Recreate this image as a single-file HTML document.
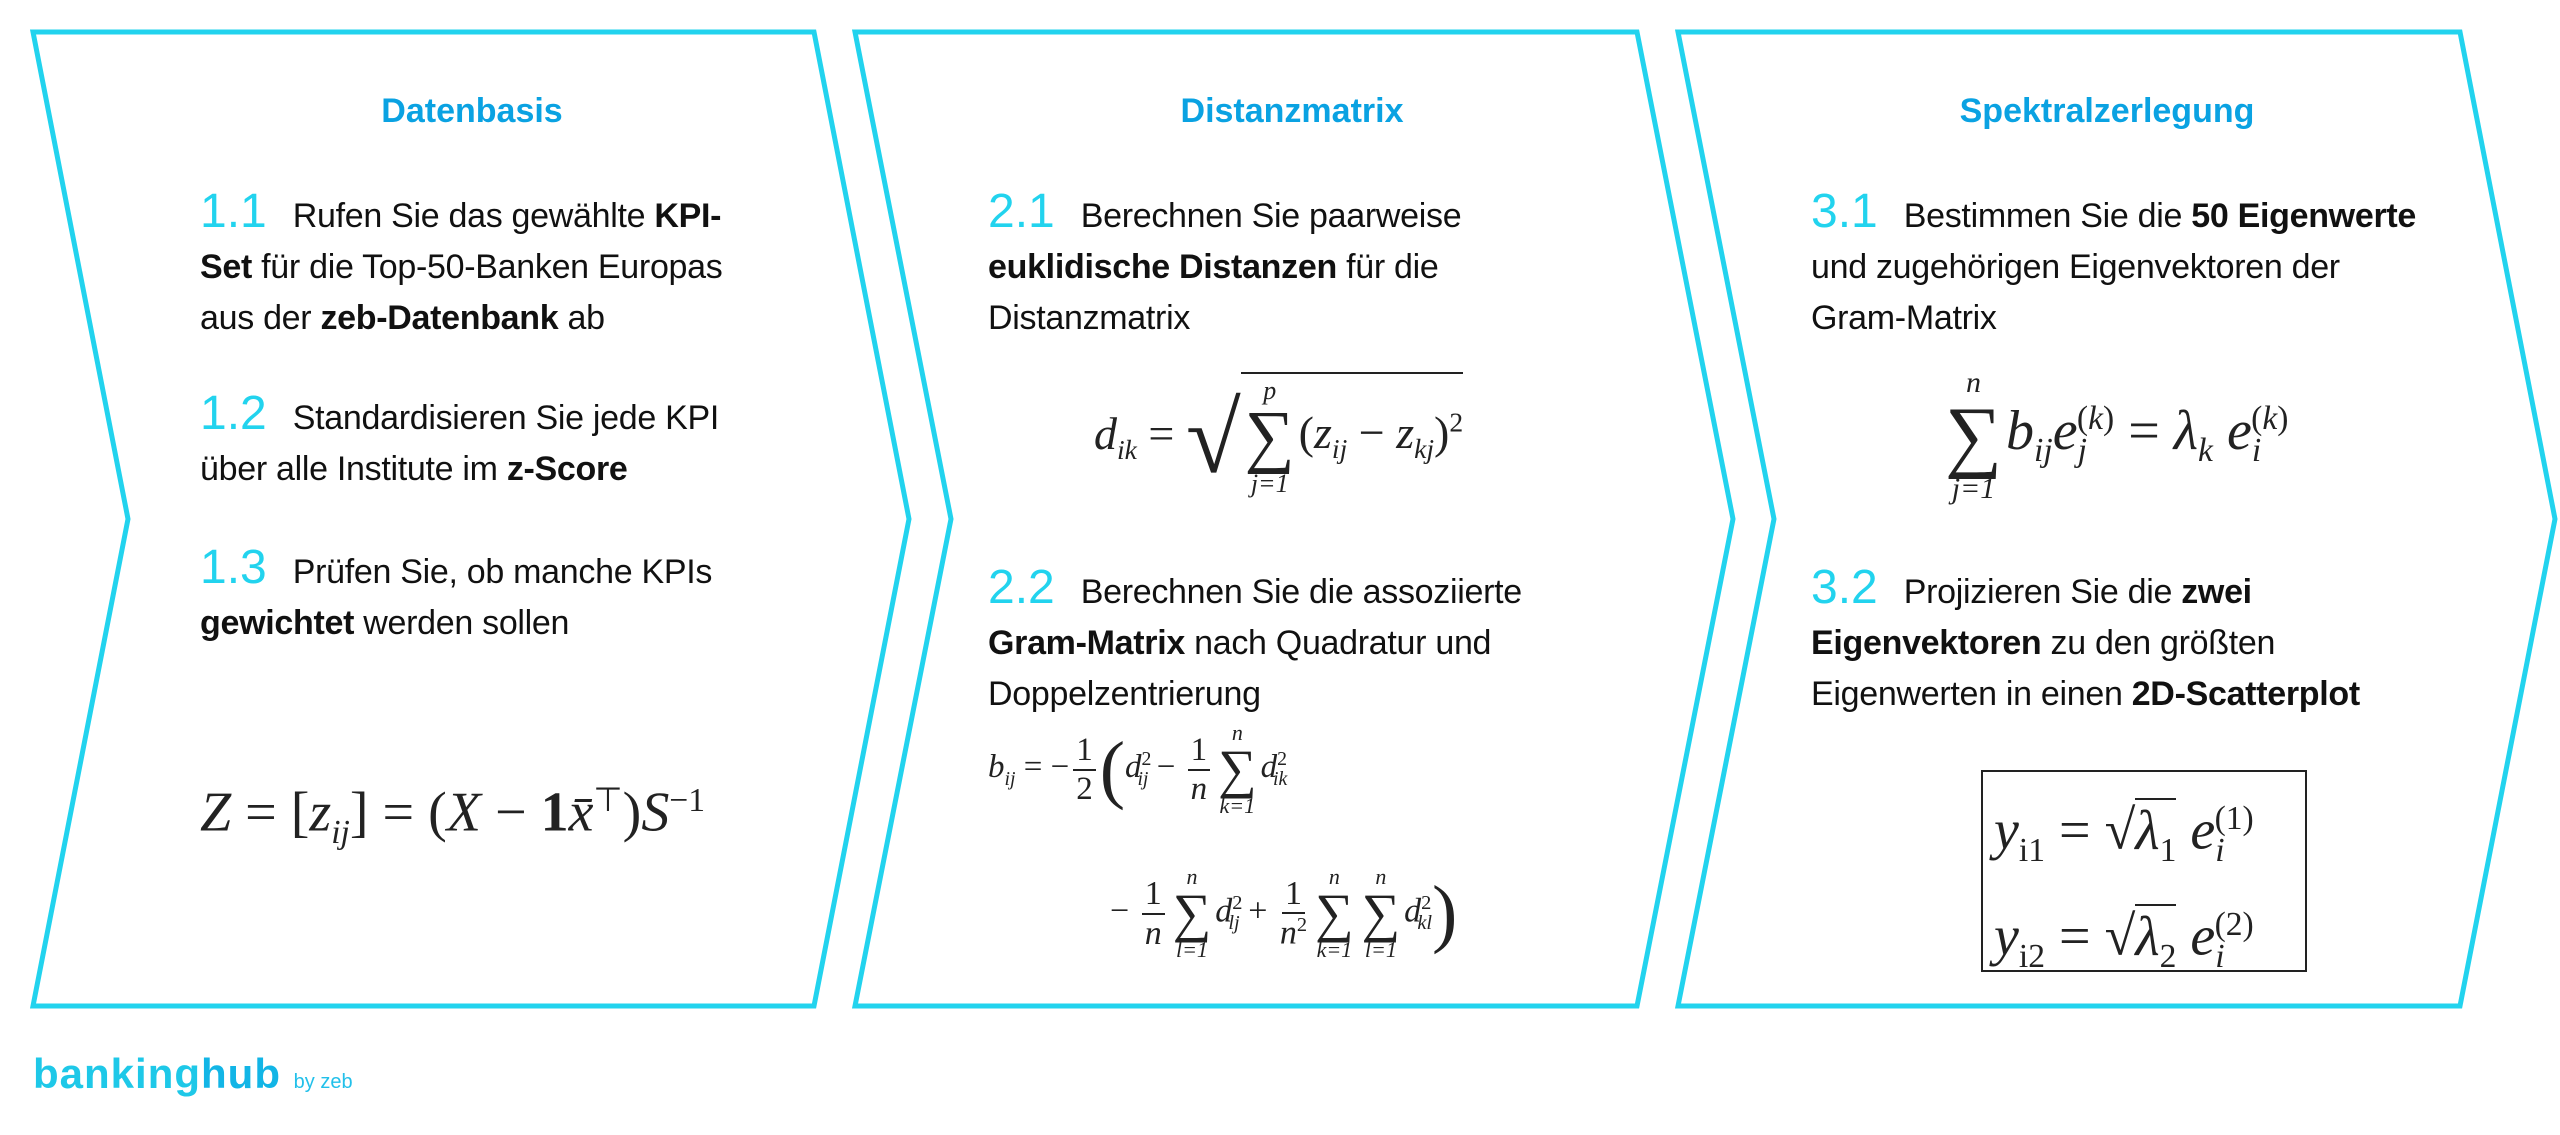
<!DOCTYPE html>
<html><head><meta charset="utf-8"><style>
body{margin:0;width:2560px;height:1135px;background:#fff;position:relative;overflow:hidden;font-family:"Liberation Sans",sans-serif;color:#111}
.a{position:absolute;white-space:nowrap}
.t{font-weight:bold;color:#0aa2e2;font-size:34px;transform:translateX(-50%)}
.l{font-size:34px;line-height:51px;letter-spacing:-0.3px}
.n{color:#22d3ee;font-size:48px;margin-right:26px;letter-spacing:0}
.m{font-family:"Liberation Serif",serif;font-size:40px;color:#222}
.m i{font-style:italic}
sub,sup{font-size:60%}
.s{display:inline-flex;flex-direction:column;align-items:center;vertical-align:middle;line-height:1;margin:0 4px}
.s .b{font-size:62px;line-height:0.95}
.s .x{font-size:22px;font-style:italic}
.f{display:inline-flex;flex-direction:column;align-items:center;vertical-align:middle;line-height:1.1;margin:0 4px}
.f span:first-child{border-bottom:2px solid #222;padding:0 3px}
</style></head><body>
<svg class="a" style="left:0;top:0" width="2560" height="1135">
<g fill="none" stroke="#22d3ee" stroke-width="5">
<polygon points="33,32 814,32 909,519 814,1006 33,1006 128,519"/>
<polygon points="855,32 1637,32 1733,519 1637,1006 855,1006 951,519"/>
<polygon points="1678,32 2460,32 2555,519 2460,1006 1678,1006 1774,519"/>
</g>
<rect x="1982" y="771" width="324" height="200" fill="none" stroke="#222" stroke-width="2"/>
</svg>

<div class="a t" style="left:472px;top:92px">Datenbasis</div>
<div class="a t" style="left:1292px;top:92px">Distanzmatrix</div>
<div class="a t" style="left:2107px;top:92px">Spektralzerlegung</div>

<div class="a l" style="left:200px;top:186px"><span class="n">1.1</span>Rufen Sie das gewählte <b>KPI-</b><br><b>Set</b> für die Top-50-Banken Europas<br>aus der <b>zeb-Datenbank</b> ab</div>
<div class="a l" style="left:200px;top:388px"><span class="n">1.2</span>Standardisieren Sie jede KPI<br>über alle Institute im <b>z-Score</b></div>
<div class="a l" style="left:200px;top:542px"><span class="n">1.3</span>Prüfen Sie, ob manche KPIs<br><b>gewichtet</b> werden sollen</div>
<div class="a m" style="left:200px;top:780px;font-size:56px"><i>Z</i> = [<i>z</i><sub><i>ij</i></sub>] = (<i>X</i> − <b>1</b><i>x̄</i><sup>⊤</sup>)<i>S</i><sup>−1</sup></div>

<div class="a l" style="left:988px;top:186px"><span class="n">2.1</span>Berechnen Sie paarweise<br><b>euklidische Distanzen</b> für die<br>Distanzmatrix</div>
<div class="a m" style="left:1094px;top:380px;font-size:46px"><i>d</i><sub><i>ik</i></sub> = <span style="font-size:100px;vertical-align:middle;font-weight:100">√</span><span style="display:inline-block;border-top:2px solid #222;vertical-align:middle;margin-top:-8px;padding-top:4px"><span class="s"><span class="x" style="font-size:26px">p</span><span class="b" style="font-size:70px">∑</span><span class="x" style="font-size:26px">j=1</span></span>(<i>z</i><sub><i>ij</i></sub> − <i>z</i><sub><i>kj</i></sub>)<sup>2</sup></span></div>
<div class="a l" style="left:988px;top:562px"><span class="n">2.2</span>Berechnen Sie die assoziierte<br><b>Gram-Matrix</b> nach Quadratur und<br>Doppelzentrierung</div>
<div class="a m" style="left:988px;top:722px;font-size:33px"><i>b</i><sub><i>ij</i></sub> = −<span class="f"><span>1</span><span>2</span></span><span style="font-size:76px;vertical-align:middle">(</span><i>d</i><sup>2</sup><sub style="margin-left:-14px"><i>ij</i></sub> − <span class="f"><span>1</span><span><i>n</i></span></span><span class="s"><span class="x">n</span><span class="b" style="font-size:54px">∑</span><span class="x">k=1</span></span><i>d</i><sup>2</sup><sub style="margin-left:-14px"><i>ik</i></sub></div>
<div class="a m" style="left:1110px;top:866px;font-size:34px">− <span class="f"><span>1</span><span><i>n</i></span></span><span class="s"><span class="x">n</span><span class="b" style="font-size:54px">∑</span><span class="x">l=1</span></span><i>d</i><sup>2</sup><sub style="margin-left:-14px"><i>lj</i></sub> + <span class="f"><span>1</span><span><i>n</i><sup>2</sup></span></span><span class="s"><span class="x">n</span><span class="b" style="font-size:54px">∑</span><span class="x">k=1</span></span><span class="s"><span class="x">n</span><span class="b" style="font-size:54px">∑</span><span class="x">l=1</span></span><i>d</i><sup>2</sup><sub style="margin-left:-14px"><i>kl</i></sub><span style="font-size:76px;vertical-align:middle">)</span></div>

<div class="a l" style="left:1811px;top:186px"><span class="n">3.1</span>Bestimmen Sie die <b>50 Eigenwerte</b><br>und zugehörigen Eigenvektoren der<br>Gram-Matrix</div>
<div class="a m" style="left:1941px;top:368px;font-size:56px"><span class="s"><span class="x" style="font-size:30px">n</span><span class="b" style="font-size:80px">∑</span><span class="x" style="font-size:30px">j=1</span></span><i>b</i><sub><i>ij</i></sub><i>e</i><sub><i>j</i></sub><sup style="margin-left:-10px">(<i>k</i>)</sup> = <i>λ</i><sub><i>k</i></sub> <i>e</i><sub><i>i</i></sub><sup style="margin-left:-10px">(<i>k</i>)</sup></div>
<div class="a l" style="left:1811px;top:562px"><span class="n">3.2</span>Projizieren Sie die <b>zwei</b><br><b>Eigenvektoren</b> zu den größten<br>Eigenwerten in einen <b>2D-Scatterplot</b></div>
<div class="a m" style="left:1994px;top:782px;font-size:56px;line-height:74px"><i>y</i><sub>i1</sub> = √<span style="border-top:2px solid #222"><i>λ</i><sub>1</sub></span> <i>e</i><sub><i>i</i></sub><sup style="margin-left:-10px">(1)</sup><br><i>y</i><sub>i2</sub> = √<span style="border-top:2px solid #222"><i>λ</i><sub>2</sub></span> <i>e</i><sub><i>i</i></sub><sup style="margin-left:-10px">(2)</sup></div>

<div class="a" style="left:33px;top:1050px;font-size:42px;font-weight:bold;color:#1ec8e8;letter-spacing:1px">banking<span style="color:#12b5e6">hub</span> <span style="font-size:20px;font-weight:normal;letter-spacing:0;color:#22c0ea">by zeb</span></div>
</body></html>
